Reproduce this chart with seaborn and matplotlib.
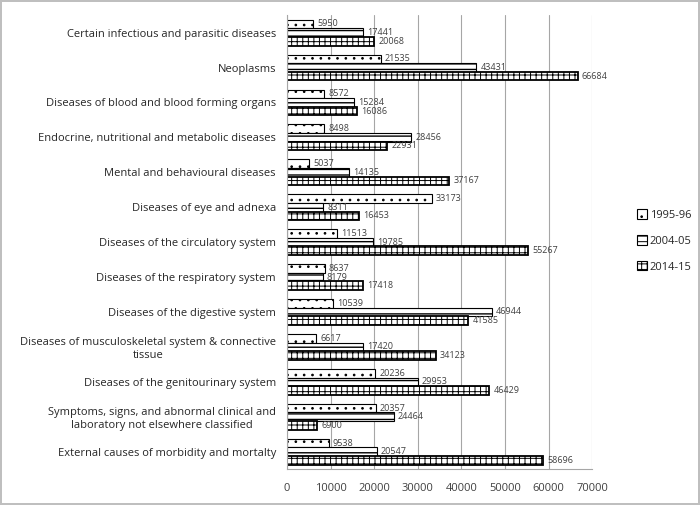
import pandas as pd
import matplotlib.pyplot as plt
import seaborn as sns
from matplotlib.patches import Patch

# --- Daten ---
kategorien = [
    "Certain infectious and parasitic diseases",
    "Neoplasms",
    "Diseases of blood and blood forming organs",
    "Endocrine, nutritional and metabolic diseases",
    "Mental and behavioural diseases",
    "Diseases of eye and adnexa",
    "Diseases of the circulatory system",
    "Diseases of the respiratory system",
    "Diseases of the digestive system",
    "Diseases of musculoskeletal system & connective\ntissue",
    "Diseases of the genitourinary system",
    "Symptoms, signs, and abnormal clinical and\nlaboratory not elsewhere classified",
    "External causes of morbidity and mortalty",
]
perioden = ["1995-96", "2004-05", "2014-15"]
werte_1995 = [5950, 21535, 8572, 8498, 5037, 33173, 11513, 8637, 10539, 6617, 20236, 20357, 9538]
werte_2004 = [17441, 43431, 15284, 28456, 14135, 8311, 19785, 8179, 46944, 17420, 29953, 24464, 20547]
werte_2014 = [20068, 66684, 16086, 22931, 37167, 16453, 55267, 17418, 41585, 34123, 46429, 6900, 58696]

df = pd.DataFrame({
    "Kategorie": kategorien * 3,
    "Periode": [p for p in perioden for _ in kategorien],
    "Wert": werte_1995 + werte_2004 + werte_2014,
})

# --- Diagramm ---
sns.set_style("white")
plt.rcParams["font.family"] = ["Open Sans", "DejaVu Sans"]
plt.rcParams["hatch.linewidth"] = 0.7

fig = plt.figure(figsize=(7, 5.05), dpi=100)
fig.patch.set_edgecolor("#bfbfbf")
fig.patch.set_linewidth(1.5)
ax = fig.add_axes([0.41, 0.071, 0.436, 0.899])

sns.barplot(data=df, y="Kategorie", x="Wert", hue="Periode", orient="h",
            palette=["white"] * 3, width=0.74, ax=ax,
            edgecolor="black", linewidth=0.8, legend=False)

muster = ["..", "---", "+++"]
hatch_lw = [0.7, 1.0, 0.7]
for cont, h, lw, hlw in zip(ax.containers, muster, [0.8, 0.8, 1.3], hatch_lw):
    for bar in cont:
        bar.set_hatch(h)
        bar.set_linewidth(lw)
        bar.set_edgecolor("black")
        if hasattr(bar, "set_hatch_linewidth"):
            bar.set_hatch_linewidth(hlw)
    ax.bar_label(cont, fmt="%d", padding=3, fontsize=6.5, color="#404040")

ax.set_xlim(0, 70000)
ax.set_xticks(range(0, 70001, 10000))
ax.xaxis.grid(True, color="#a6a6a6", linewidth=0.8)
ax.set_axisbelow(True)
for s in ["top", "right"]:
    ax.spines[s].set_visible(False)
for s in ["left", "bottom"]:
    ax.spines[s].set_color("#a6a6a6")
ax.tick_params(axis="x", labelsize=8, colors="#404040", length=0, pad=10)
ax.tick_params(axis="y", labelsize=8, length=0, pad=8)
for lbl in ax.get_yticklabels():
    lbl.set_multialignment("center")
    lbl.set_color("#262626")
ax.set_xlabel("")
ax.set_ylabel("")

handles = [Patch(facecolor="white", edgecolor="black", hatch=h, linewidth=0.8) for h in muster]
fig.legend(handles, perioden, loc="upper left", bbox_to_anchor=(0.895, 0.605),
           frameon=False, fontsize=8, handlelength=0.9, handleheight=0.9,
           handletextpad=0.3, labelspacing=1.3)

plt.savefig("out.png", dpi=100)
